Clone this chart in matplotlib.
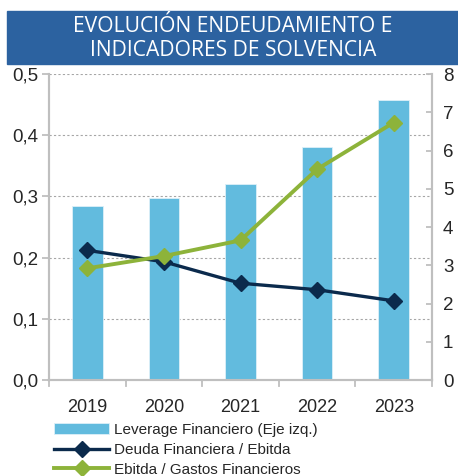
import matplotlib
matplotlib.use("Agg")
import matplotlib.pyplot as plt
from matplotlib.patches import Rectangle
from matplotlib.ticker import FuncFormatter, MultipleLocator
import numpy as np

years = ["2019", "2020", "2021", "2022", "2023"]
leverage = [0.284, 0.298, 0.320, 0.380, 0.457]
deuda_ebitda = [3.39, 3.09, 2.53, 2.36, 2.07]
ebitda_gf = [2.92, 3.24, 3.65, 5.51, 6.73]

title_lines = ["EVOLUCIÓN ENDEUDAMIENTO E", "INDICADORES DE SOLVENCIA"]
labels = ["Leverage Financiero (Eje izq.)", "Deuda Financiera / Ebitda",
          "Ebitda / Gastos Financieros"]

narrow = ["Liberation Sans Narrow", "Liberation Sans", "DejaVu Sans"]
BAR = "#62BBDE"
DARK = "#0B2A4C"
GREEN = "#8DB33A"
SPINE = "#BFBFBF"

fig = plt.figure(figsize=(4.58, 4.76), dpi=100)
W, H = 458, 476

# title band
fig.patches.append(Rectangle((7 / W, 1 - 64 / H), 1 - 7 / W, 53 / H,
                             transform=fig.transFigure, color="#2C62A0", zorder=0))
fig.text(233 / W, 1 - 26 / H, title_lines[0], ha="center", va="center",
         color="white", fontsize=15.2, family=["Open Sans", "DejaVu Sans"])
fig.text(233 / W, 1 - 50 / H, title_lines[1], ha="center", va="center",
         color="white", fontsize=15.2, family=["Open Sans", "DejaVu Sans"])

ax = fig.add_axes([49 / W, 1 - 380 / H, (432 - 49) / W, (380 - 74) / H])
ax2 = ax.twinx()

x = np.arange(len(years))
bars = ax.bar(x, leverage, width=0.4, color=BAR, edgecolor="#DDF0F8",
              linewidth=0.6, zorder=3, label=labels[0])
ax.set_xlim(-0.5, len(years) - 0.5)
ax.set_ylim(0, 0.5)
ax.yaxis.set_major_locator(MultipleLocator(0.1))
ax.yaxis.set_major_formatter(FuncFormatter(lambda v, p: f"{v:.1f}".replace(".", ",")))
for v in np.arange(0.1, 0.51, 0.1):
    ax.axhline(v, color="#A6A6A6", linestyle=(0, (2, 2)), linewidth=0.8, zorder=1)

ax.set_xticks(x)
ax.set_xticklabels(years)
ax.tick_params(axis="x", length=0, pad=14, labelsize=13, labelcolor="#262626")
for b in np.arange(-0.5, len(years), 1.0):
    ax.plot([b, b], [0, -0.009], color=SPINE, lw=1.3, clip_on=False, zorder=5)
ax.tick_params(axis="y", direction="out", length=5, width=1.3, color=SPINE,
               labelsize=13.5, labelcolor="#262626", pad=3)
for lab in ax.get_xticklabels() + ax.get_yticklabels():
    lab.set_family(narrow)

ax2.set_ylim(0, 8)
ax2.yaxis.set_major_locator(MultipleLocator(1))
ax2.tick_params(axis="y", direction="in", length=4, width=1.3, color=SPINE,
                labelsize=13.5, labelcolor="#262626", pad=8)
for lab in ax2.get_yticklabels():
    lab.set_family(narrow)

l1, = ax2.plot(x, deuda_ebitda, color=DARK, lw=2.4, marker="D", markersize=8,
               label=labels[1], zorder=4)
l2, = ax2.plot(x, ebitda_gf, color=GREEN, lw=2.8, marker="D", markersize=8,
               label=labels[2], zorder=5)

for a in (ax, ax2):
    a.spines["top"].set_visible(False)
    for s in ("left", "right", "bottom"):
        a.spines[s].set_color(SPINE)
        a.spines[s].set_linewidth(1.5)

fig.legend([bars, l1, l2], labels, loc="upper left",
           bbox_to_anchor=(48 / W, 1 - 417 / H), frameon=False,
           prop={"family": narrow, "size": 11}, handlelength=3.6,
           handletextpad=0.3, labelspacing=0.38, borderaxespad=0,
           labelcolor="#262626")

fig.savefig("out.png", dpi=100)
